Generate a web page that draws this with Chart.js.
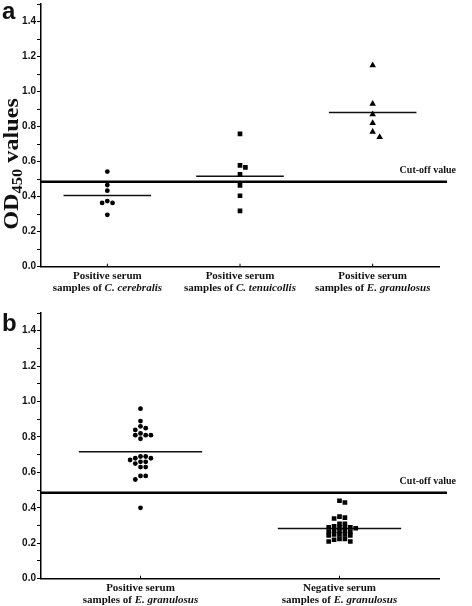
<!DOCTYPE html>
<html>
<head>
<meta charset="utf-8">
<script src="https://cdn.jsdelivr.net/npm/chart.js@4.4.0/dist/chart.umd.min.js"></script>
<style>
  body { margin: 0; background: #fff; }
  canvas { display: block; }
</style>
</head>
<body>
<canvas id="chartA" width="472" height="303"></canvas>
<canvas id="chartB" width="472" height="303"></canvas>
<script>
// OD450 values
const labelsA = ['Positive serum', 'Positive serum', 'Positive serum'];
const speciesA = ['C. cerebralis', 'C. tenuicollis', 'E. granulosus'];
const cerebralis = [0.543, 0.466, 0.434, 0.375, 0.364, 0.364, 0.296];
const tenuicollis = [0.758, 0.579, 0.567, 0.528, 0.464, 0.405, 0.319];
const granulosusA = [1.15, 0.93, 0.87, 0.82, 0.77, 0.74];

const labelsB = ['Positive serum', 'Negative serum'];
const speciesB = ['E. granulosus', 'E. granulosus'];
const positiveB = [0.96, 0.89, 0.86, 0.85, 0.84, 0.82, 0.81, 0.81, 0.81, 0.79,
  0.69, 0.69, 0.68, 0.68, 0.67, 0.66, 0.66, 0.65, 0.63, 0.63, 0.58, 0.58, 0.56, 0.40];
const negativeB = [0.44, 0.43, 0.35, 0.345, 0.34, 0.31, 0.31,
  0.295, 0.29, 0.29, 0.29, 0.29, 0.285, 0.27, 0.27, 0.27, 0.265, 0.265,
  0.25, 0.25, 0.25, 0.245, 0.245, 0.225, 0.225, 0.22, 0.21, 0.21];

const cutoff = 0.485;
const yMin = 0, yMax = 1.5, yStep = 0.1;

const mean = a => a.reduce((s, v) => s + v, 0) / a.length;

const SERIF = '"Liberation Serif", "Times New Roman", serif';
const SANS = '"Liberation Sans", Arial, sans-serif';

const markers = {
  circle: { pointStyle: 'circle', pointRadius: 2.4, gap: 5.2, vgap: 3.6 },
  rect: { pointStyle: 'rect', pointRadius: 3.3, gap: 5.4, vgap: 3.4 },
  triangle: { pointStyle: 'triangle', pointRadius: 3.8, gap: 7, vgap: 6 }
};

// extra drawing: cut-off line, category labels, panel letter, axis title
const decor = {
  id: 'decor',
  beforeDatasetsDraw(chart, args, o) {
    const { ctx, chartArea: ca, scales: { y } } = chart;
    const cy = y.getPixelForValue(cutoff);
    ctx.save();
    ctx.strokeStyle = '#000';
    ctx.lineWidth = 2.5;
    ctx.beginPath();
    ctx.moveTo(ca.left, cy);
    ctx.lineTo(ca.right + 8, cy);
    ctx.stroke();
    ctx.fillStyle = '#111';
    ctx.font = 'bold 10px ' + SERIF;
    ctx.textAlign = 'right';
    ctx.textBaseline = 'alphabetic';
    ctx.fillText('Cut-off value', ca.right + 17, cy - 9);
    ctx.restore();
  },
  afterDraw(chart, args, o) {
    const { ctx, chartArea: ca, scales: { x } } = chart;
    ctx.save();
    ctx.strokeStyle = '#000';
    ctx.lineWidth = 1;
    ctx.fillStyle = '#111';
    o.labels.forEach((lab, i) => {
      const cx = x.getPixelForValue(i + 1);
      ctx.beginPath();
      ctx.moveTo(cx, ca.bottom - 3);
      ctx.lineTo(cx, ca.bottom);
      ctx.stroke();
      ctx.textBaseline = 'middle';
      ctx.textAlign = 'center';
      ctx.font = 'bold 11px ' + SERIF;
      ctx.fillText(lab, cx, ca.bottom + 9);
      const pre = 'samples of ';
      const bold = 'bold 11px ' + SERIF, ital = 'italic bold 11px ' + SERIF;
      ctx.font = bold;
      const w1 = ctx.measureText(pre).width;
      ctx.font = ital;
      const w2 = ctx.measureText(o.species[i]).width;
      const sx = cx - (w1 + w2) / 2;
      ctx.textAlign = 'left';
      ctx.font = bold;
      ctx.fillText(pre, sx, ca.bottom + 21);
      ctx.font = ital;
      ctx.fillText(o.species[i], sx + w1, ca.bottom + 21);
    });
    ctx.font = 'bold 24px ' + SANS;
    ctx.textAlign = 'left';
    ctx.textBaseline = 'alphabetic';
    ctx.fillText(o.letter, 2, o.letterY);
    if (o.title) {
      ctx.translate(18, 164);
      ctx.rotate(-Math.PI / 2);
      const big = 'bold 22px ' + SERIF, small = 'bold 15px ' + SERIF;
      ctx.font = big;
      const wa = ctx.measureText('OD').width, wc = ctx.measureText(' values').width;
      ctx.font = small;
      const wb = ctx.measureText('450').width;
      const total = wa + wb + wc;
      ctx.scale(1.1, 1);
      let px = -total / 2;
      ctx.font = big;
      ctx.fillText('OD', px, 0);
      px += wa;
      ctx.font = small;
      ctx.fillText('450', px, 4);
      px += wb;
      ctx.font = big;
      ctx.fillText(' values', px, 0);
    }
    ctx.restore();
  }
};

function makeChart(id, groups, labels, species, opt) {
  const datasets = [];
  groups.forEach((g, i) => {
    const m = markers[g.marker];
    datasets.push({
      type: 'scatter',
      raw: g.values.slice().sort((a, b) => b - a),
      cat: i + 1,
      gap: m.gap,
      vgap: m.vgap,
      data: g.values.map(v => ({ x: i + 1, y: v })),
      pointStyle: m.pointStyle,
      pointRadius: m.pointRadius,
      backgroundColor: '#000',
      borderColor: '#000',
      borderWidth: 0
    });
    const mv = mean(g.values);
    datasets.push({
      type: 'line',
      data: [{ x: i + 1 - opt.half, y: mv }, { x: i + 1 + opt.half, y: mv }],
      borderColor: '#111',
      borderWidth: 1.5,
      pointRadius: 0
    });
  });

  const chart = new Chart(document.getElementById(id), {
    data: { datasets },
    options: {
      responsive: false,
      animation: false,
      events: [],
      layout: { padding: { top: opt.top, right: 33, left: 0, bottom: 0 } },
      plugins: {
        legend: { display: false },
        tooltip: { enabled: false },
        decor: { labels, species, letter: opt.letter, letterY: opt.letterY, title: opt.title }
      },
      scales: {
        x: {
          type: 'linear',
          min: 0.5,
          max: labels.length + 0.5,
          ticks: { display: false },
          grid: { display: false },
          border: { color: '#000', width: 1.5 },
          afterFit: s => { s.height = opt.xh; }
        },
        y: {
          min: yMin,
          max: yMax,
          ticks: {
            stepSize: yStep,
            autoSkip: false,
            padding: 1,
            color: '#111',
            font: { family: SANS, weight: 'bold', size: 10 },
            callback: v => (Math.round(v * 10) % 2 === 0 ? v.toFixed(1) : '')
          },
          grid: { drawOnChartArea: false, tickLength: 4, color: '#000', lineWidth: 1 },
          border: { color: '#000', width: 1.5 },
          afterFit: s => { s.width = 41; s.paddingTop = 0; s.paddingBottom = 0; }
        }
      }
    },
    plugins: [decor]
  });

  // spread close values sideways like a dot plot
  const xs = chart.scales.x, ys = chart.scales.y;
  chart.data.datasets.forEach(ds => {
    if (!ds.raw) return;
    const cx = xs.getPixelForValue(ds.cat);
    const placed = [];
    ds.data = ds.raw.map(v => {
      const py = ys.getPixelForValue(v);
      let dx = 0;
      for (let k = 0; k < 40; k++) {
        const off = (k % 2 ? 1 : -1) * Math.ceil(k / 2) * ds.gap;
        if (placed.every(p => Math.abs(p.x - off) >= ds.gap || Math.abs(p.y - py) >= ds.vgap)) { dx = off; break; }
      }
      placed.push({ x: dx, y: py });
      return { x: xs.getValueForPixel(cx + dx), y: v };
    });
  });
  chart.update('none');
  return chart;
}

makeChart('chartA', [
  { values: cerebralis, marker: 'circle' },
  { values: tenuicollis, marker: 'rect' },
  { values: granulosusA, marker: 'triangle' }
], labelsA, speciesA, { top: 1.4, xh: 36.3, half: 0.33, letter: 'a', letterY: 19, title: true });

makeChart('chartB', [
  { values: positiveB, marker: 'circle' },
  { values: negativeB, marker: 'rect' }
], labelsB, speciesB, { top: 10, xh: 27.3, half: 0.31, letter: 'b', letterY: 28, title: false });
</script>
</body>
</html>
